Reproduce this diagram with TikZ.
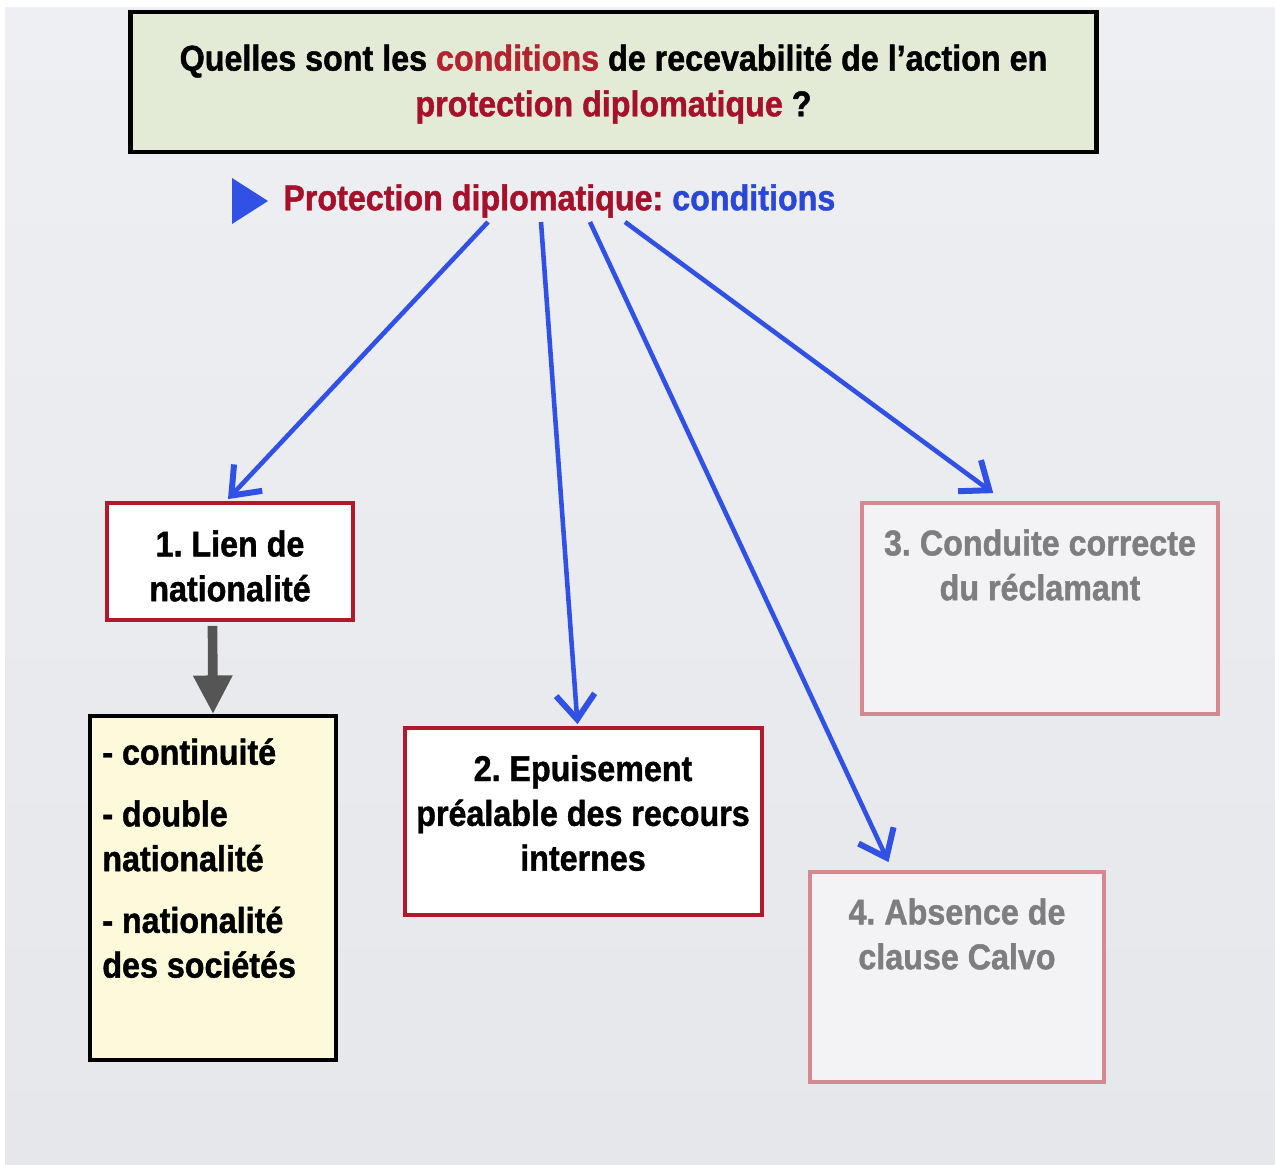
\documentclass[tikz,border=0pt]{standalone}
\usepackage{fontspec}
\setmainfont{Liberation Sans}[FakeStretch=0.9, BoldFeatures={FakeBold=1.2}]
\frenchspacing
\usetikzlibrary{arrows.meta,calc}
\definecolor{bgtop}{HTML}{EEEFF2}
\definecolor{bgbot}{HTML}{E5E7EB}
\definecolor{titlefill}{HTML}{E3EAD6}
\definecolor{darkred}{HTML}{A5112B}
\definecolor{titlered}{HTML}{B3232F}
\definecolor{myblue}{HTML}{2B47D6}
\definecolor{arrowblue}{HTML}{3050E6}
\definecolor{boxred}{HTML}{B01A2A}
\definecolor{palered}{HTML}{D48890}
\definecolor{palefill}{HTML}{F3F3F5}
\definecolor{yellowfill}{HTML}{FCFADA}
\definecolor{graytext}{HTML}{7E7E80}
\definecolor{grayarrow}{HTML}{555555}
\begin{document}
\begin{tikzpicture}[x=0.02cm,y=-0.02cm,
  txt/.style={font=\bfseries\fontsize{20.4}{25.5}\selectfont, align=center, inner sep=0pt},
  titletxt/.style={font=\bfseries\fontsize{20.4}{26}\selectfont, align=center, inner sep=0pt},
  redbox/.style={draw=boxred, line width=2.2pt, fill=white, inner sep=0pt},
  palebox/.style={draw=palered, line width=2.2pt, fill=palefill, inner sep=0pt},
  yellowbox/.style={draw=black, line width=2.2pt, fill=yellowfill, inner sep=0pt},
  titlebox/.style={draw=black, line width=2.8pt, fill=titlefill, inner sep=0pt},
  bluearrow/.style={draw=arrowblue, line width=2.6pt, -{Straight Barb[length=14pt,width=22pt,line width=3.4pt]}},
  grayarr/.style={draw=grayarrow, line width=5.5pt, -{Triangle[length=22pt,width=21pt]}}
]
\useasboundingbox (0,0) rectangle (1275,1164);
\fill[white] (0,0) rectangle (1275,1164);
\fill[top color=bgtop, bottom color=bgbot] (5,7) rectangle (1275,1164);

% title
\node[titlebox, minimum width=19.34cm, minimum height=2.8cm] (title) at (613.5,82) {};
\node[titletxt] (titletext) at (613.5,84) {Quelles sont les \textcolor{titlered}{conditions} de recevabilité de l’action en\\\textcolor{darkred}{protection diplomatique} ?};

% subtitle
\fill[arrowblue] (232,178) -- (268,201) -- (232,224) -- cycle;
\node[txt, anchor=west] (sub) at (283,201) {\textcolor{darkred}{Protection diplomatique:} \textcolor{myblue}{conditions}};

% boxes
\node[redbox, minimum width=4.92cm, minimum height=2.34cm] (b1) at (230,561.5) {};
\node[txt] (t1) at (230,566) {1. Lien de\\nationalité};

\node[yellowbox, minimum width=4.92cm, minimum height=6.88cm] (b5) at (213,888) {};
\node[txt, align=left, anchor=north west] (t5) at (102,738) {- continuité\\[9.6pt]- double\\nationalité\\[9.6pt]- nationalité\\des sociétés};

\node[redbox, minimum width=7.14cm, minimum height=3.74cm] (b2) at (583.5,821.5) {};
\node[txt] (t2) at (583,813) {2. Epuisement\\préalable des recours\\internes};

\node[palebox, minimum width=7.12cm, minimum height=4.22cm] (b3) at (1040,608.5) {};
\node[txt, text=graytext] (t3) at (1040,565) {3. Conduite correcte\\du réclamant};

\node[palebox, minimum width=5.88cm, minimum height=4.2cm] (b4) at (957,977) {};
\node[txt, text=graytext] (t4) at (957,934) {4. Absence de\\clause Calvo};

% arrow starts
\coordinate (s1) at (488,222);
\coordinate (s2) at (541,222);
\coordinate (s3) at (590,222);
\coordinate (s4) at (625,222);

\draw[bluearrow] (s1) -- ($(b1.north)+(-2,-2)$);
\draw[bluearrow] (s2) -- ($(b2.north)+(-6,-2)$);
\draw[bluearrow] (s3) -- ($(b4.north west)!0.27!(b4.north east)+(0,-8)$);
\draw[bluearrow] (s4) -- ($(b3.north west)!0.37!(b3.north east)+(0,-8)$);

\draw[grayarr] ($(b1.south west)!0.43!(b1.south east)+(0,4)$) -- (b5.north);
\end{tikzpicture}
\end{document}
